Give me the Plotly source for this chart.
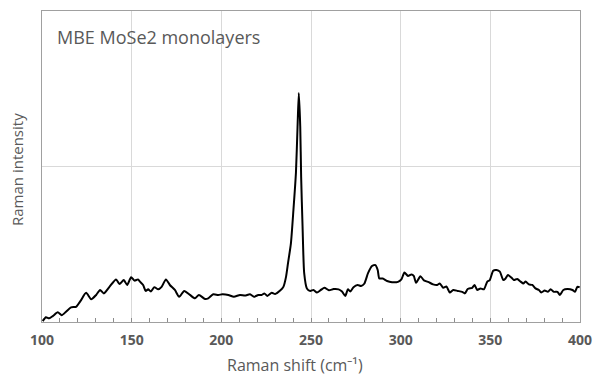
import plotly.graph_objects as go

raman_shift = [100.4, 102.2, 104.0, 106.0, 108.8, 111.0, 113.4, 116.2, 119.0, 121.4,
               124.6, 127.4, 130.2, 132.4, 134.5, 137.6, 141.3, 143.2, 145.6, 147.5,
               149.7, 151.6, 153.5, 154.6, 156.4, 157.8, 159.2, 160.7, 162.6, 164.8,
               166.7, 169.1, 171.3, 174.1, 176.5, 179.3, 182.5, 185.3, 187.5, 190.9,
               192.7, 195.5, 198.3, 200.6, 203.9, 207.0, 210.4, 213.2, 216.0, 218.2,
               220.6, 222.5, 224.0, 225.7, 228.1, 230.0, 232.8, 234.6, 236.1, 237.2,
               238.8, 240.2, 241.6, 242.5, 243.2, 244.0, 244.5, 245.3, 246.2, 247.7,
               249.6, 251.4, 253.3, 255.5, 257.5, 260.0, 262.6, 265.4, 267.3, 269.1,
               270.6, 271.9, 273.7, 276.0, 277.9, 279.7, 281.8, 284.0, 285.9, 287.2,
               288.1, 290.0, 292.4, 295.2, 298.5, 300.4, 302.1, 304.1, 306.0, 307.3,
               308.6, 311.0, 313.0, 315.6, 318.1, 320.3, 321.8, 323.7, 325.5, 327.4,
               329.3, 331.8, 334.3, 335.8, 337.4, 339.9, 341.2, 342.7, 344.5, 346.4,
               348.3, 349.7, 351.6, 353.5, 355.3, 357.2, 358.5, 359.8, 361.7, 363.1,
               365.0, 366.9, 368.4, 369.7, 371.5, 373.4, 375.2, 377.1, 378.4, 380.3,
               382.1, 383.6, 385.5, 387.4, 388.8, 390.7, 393.0, 395.8, 397.2, 398.5,
               399.8]
intensity = [3, 15, 12, 19, 31, 22, 33, 47, 49, 67,
             94, 73, 87, 103, 92, 113, 137, 122, 135, 119,
             144, 133, 137, 130, 119, 100, 105, 98, 112, 105,
             113, 137, 119, 103, 81, 100, 87, 76, 87, 74,
             76, 89, 87, 89, 87, 81, 87, 85, 89, 81,
             87, 87, 92, 84, 94, 90, 101, 113, 146, 190,
             253, 360, 480, 628, 736, 628, 467, 306, 157, 108,
             100, 103, 95, 103, 110, 102, 106, 105, 98, 84,
             105, 98, 112, 119, 116, 123, 157, 180, 183, 167,
             140, 140, 132, 128, 129, 137, 159, 148, 153, 148,
             126, 147, 134, 128, 121, 119, 124, 110, 114, 95,
             103, 100, 97, 92, 106, 110, 119, 103, 108, 105,
             130, 135, 165, 167, 162, 135, 140, 151, 143, 135,
             138, 130, 124, 130, 121, 119, 108, 103, 95, 101,
             97, 105, 97, 97, 87, 103, 106, 103, 97, 113,
             112]

x_ticks = [100, 150, 200, 250, 300, 350, 400]

grey_text = "#595959"

W, H = 600, 384
L, R, T, B = 42, 20, 11, 62
pw, ph = W - L - R, H - T - B


def px(xp):
    return (xp - L) / pw


def py(yp):
    return (H - B - yp) / ph


fig = go.Figure()
fig.add_trace(go.Scatter(
    x=raman_shift, y=intensity, mode="lines",
    line=dict(color="black", width=2, shape="spline", smoothing=0.6),
    showlegend=False, hoverinfo="skip",
))

fig.update_layout(
    width=W, height=H,
    margin=dict(l=L, r=R, t=T, b=B, autoexpand=False),
    paper_bgcolor="white", plot_bgcolor="white",
    font=dict(family="Open Sans", color=grey_text),
    xaxis=dict(
        range=[100, 400], tickvals=x_ticks, ticktext=[str(v) for v in x_ticks],
        showgrid=True, gridcolor="#d9d9d9", gridwidth=1,
        showline=True, linecolor="#a0a0a0", linewidth=1, mirror=True,
        ticks="inside", ticklen=4, tickcolor="#8c8c8c",
        minor=dict(dtick=10, ticks="inside", ticklen=4, tickcolor="#8c8c8c", showgrid=False),
        tickfont=dict(family="Open Sans", size=14, color=grey_text, weight="bold"),
        ticklabelstandoff=5,
        automargin=False, zeroline=False,
    ),
    yaxis=dict(
        range=[0, 1000], dtick=500, showticklabels=False,
        showgrid=True, gridcolor="#d9d9d9", gridwidth=1,
        showline=True, linecolor="#a0a0a0", linewidth=1, mirror=True,
        ticks="", zeroline=False, automargin=False,
    ),
)

fig.add_annotation(text="MBE MoSe2 monolayers", x=px(55), y=py(37), xref="paper", yref="paper",
                   xanchor="left", yanchor="middle", showarrow=False,
                   font=dict(family="Open Sans", size=18, color=grey_text))
fig.add_annotation(text="Raman shift (cm⁻¹)", x=px(295), y=py(365), xref="paper", yref="paper",
                   xanchor="center", yanchor="middle", showarrow=False,
                   font=dict(family="Open Sans", size=16, color=grey_text))
fig.add_annotation(text="Raman intensity", x=px(17), y=py(170), xref="paper", yref="paper",
                   xanchor="center", yanchor="middle", showarrow=False, textangle=-90,
                   font=dict(family="Open Sans", size=15, color=grey_text))

fig.write_html("out.html", config={"displayModeBar": False},
               post_script="document.body.style.margin='0';")
